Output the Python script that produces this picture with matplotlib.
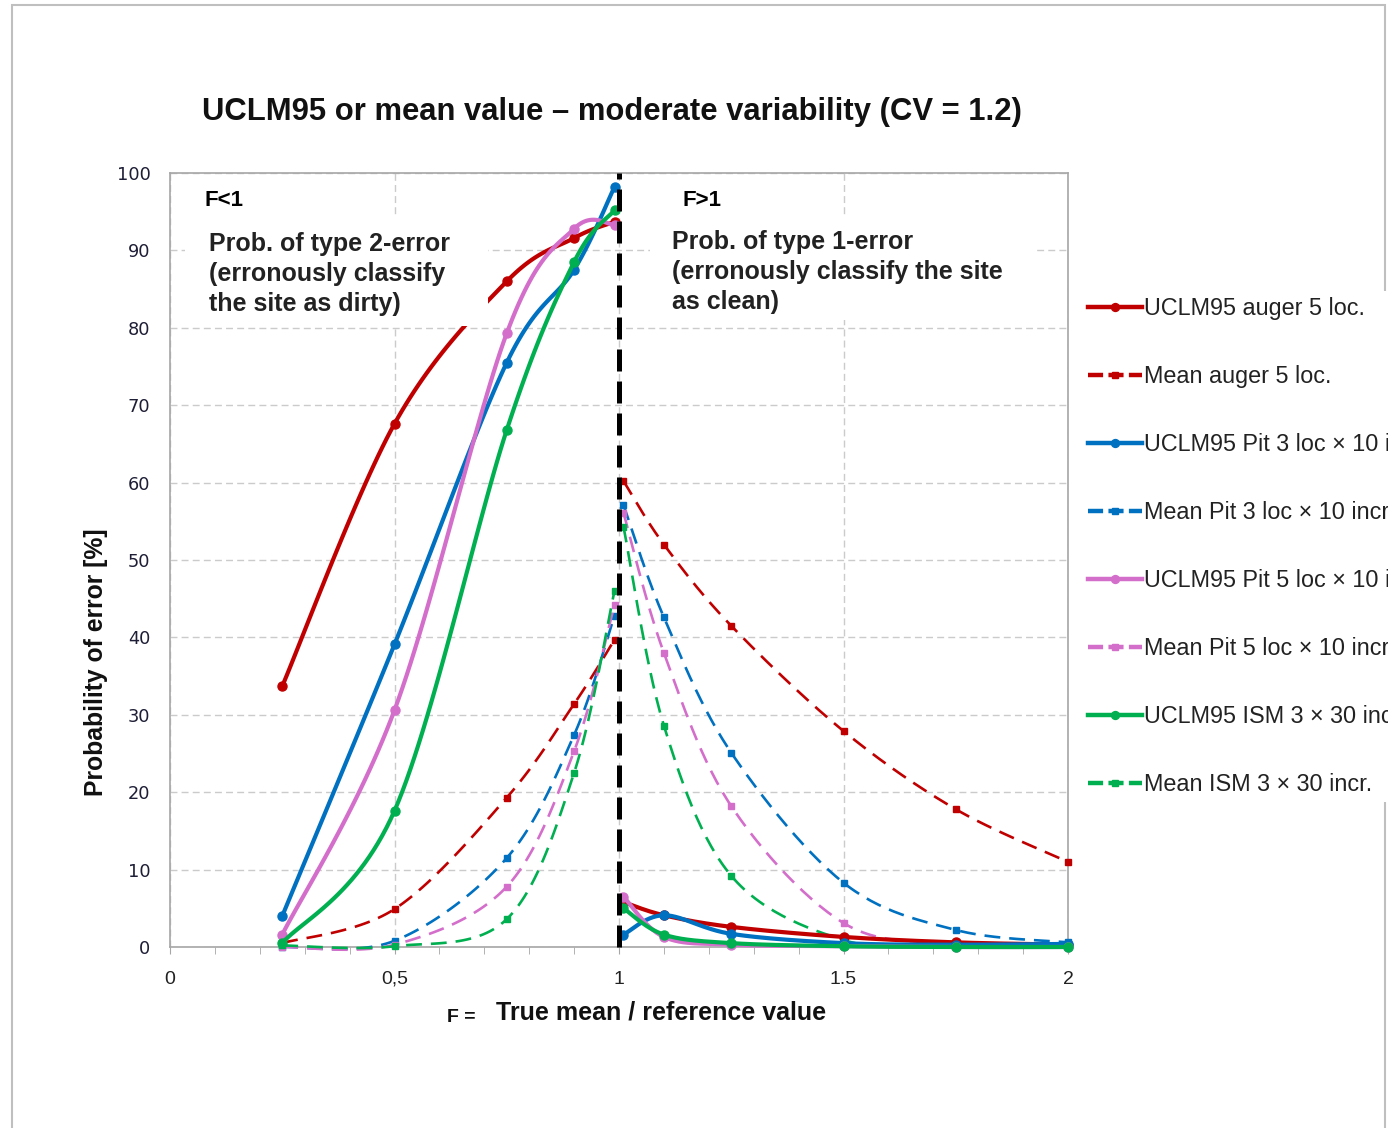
import numpy as np
import matplotlib
matplotlib.use('Agg')
import matplotlib.pyplot as plt
from matplotlib.lines import Line2D
from matplotlib.patches import Rectangle

W, H = 1388, 1128

# x positions of the computed points (F = true mean / reference value)
f_left = [0.25, 0.5, 0.75, 0.9, 0.99]
f_right = [1.01, 1.1, 1.25, 1.5, 1.75, 2.0]

# probability of error [%]
ucl_auger_left = [33.7, 67.6, 86.0, 91.6, 93.7]
ucl_auger_right = [5.8, 4.1, 2.6, 1.3, 0.6, 0.3]
mean_auger_left = [0.5, 4.9, 19.3, 31.4, 39.7]
mean_auger_right = [60.2, 52.0, 41.5, 27.9, 17.8, 11.0]
ucl_pit3_left = [4.0, 39.1, 75.5, 87.5, 98.2]
ucl_pit3_right = [1.6, 4.1, 1.7, 0.5, 0.3, 0.4]
mean_pit3_left = [0.0, 0.8, 11.5, 27.4, 42.8]
mean_pit3_right = [57.1, 42.6, 25.1, 8.3, 2.2, 0.6]
ucl_pit5_left = [1.6, 30.6, 79.3, 92.8, 93.3]
ucl_pit5_right = [6.5, 1.3, 0.3, 0.1, 0.0, 0.0]
mean_pit5_left = [0.0, 0.3, 7.8, 25.3, 44.2]
mean_pit5_right = [56.1, 38.0, 18.2, 3.1, 0.5, 0.2]
ucl_ism_left = [0.5, 17.6, 66.8, 88.5, 95.2]
ucl_ism_right = [5.0, 1.6, 0.5, 0.1, 0.0, 0.0]
mean_ism_left = [0.2, 0.1, 3.6, 22.5, 46.0]
mean_ism_right = [54.3, 28.6, 9.2, 0.9, 0.1, 0.0]

labels = ['UCLM95 auger 5 loc.', 'Mean auger 5 loc.',
          'UCLM95 Pit 3 loc \u00d7 10 incr.', 'Mean Pit 3 loc \u00d7 10 incr.',
          'UCLM95 Pit 5 loc \u00d7 10 incr.', 'Mean Pit 5 loc \u00d7 10 incr.',
          'UCLM95 ISM 3 \u00d7 30 incr.', 'Mean ISM 3 \u00d7 30 incr.']

red, blue, pink, green = '#C00000', '#0070C0', '#D46ECB', '#00B050'

series = [
    (ucl_auger_left, ucl_auger_right, red, True),
    (mean_auger_left, mean_auger_right, red, False),
    (ucl_pit3_left, ucl_pit3_right, blue, True),
    (mean_pit3_left, mean_pit3_right, blue, False),
    (ucl_pit5_left, ucl_pit5_right, pink, True),
    (mean_pit5_left, mean_pit5_right, pink, False),
    (ucl_ism_left, ucl_ism_right, green, True),
    (mean_ism_left, mean_ism_right, green, False),
]

plt.rcParams['font.family'] = ['Liberation Sans', 'DejaVu Sans']


def smooth(xs, ys, n=30):
    # excel-style smoothed line: bezier segments with catmull-rom control points
    p = np.column_stack([xs, ys]).astype(float)
    ext = np.vstack([p[0], p, p[-1]])
    t = np.linspace(0, 1, n)[1:, None]
    out = [p[0]]
    for i in range(len(p) - 1):
        p0, p1, p2, p3 = ext[i], ext[i + 1], ext[i + 2], ext[i + 3]
        c1 = p1 + (p2 - p0) / 6
        c2 = p2 - (p3 - p1) / 6
        seg = (1 - t)**3 * p1 + 3 * (1 - t)**2 * t * c1 + 3 * (1 - t) * t**2 * c2 + t**3 * p2
        out.extend(seg)
    out = np.array(out)
    return out[:, 0], out[:, 1]


fig = plt.figure(figsize=(W / 100, H / 100), dpi=100)
ax = fig.add_axes([170 / W, 1 - 947 / H, 898 / W, 774 / H])

dash = (0, (6, 3.4))
handles = []
for k, (yl, yr, c, solid) in enumerate(series):
    lw = 3.0 if solid else 1.9
    ls = '-' if solid else dash
    mk = 'o' if solid else 's'
    ms = 6.5 if solid else 5
    z = 4 if solid else 3
    for xs, ys in ((f_left, yl), (f_right, yr)):
        sx, sy = smooth(xs, ys)
        ax.plot(sx, sy, color=c, lw=lw, ls=ls, zorder=z, clip_on=False)
        ax.plot(xs, ys, ls='none', marker=mk, ms=ms, color=c, zorder=z, clip_on=False)
    handles.append(Line2D([], [], color=c, lw=3.2, ls='-' if solid else (0, (3.4, 1.2)),
                          marker=mk, ms=ms - 0.8))

# black divider at F = 1
ax.plot([1, 1], [0, 100], color='black', lw=3.6, ls=(0, (4.4, 2.0)), zorder=5, clip_on=False)

ax.set_xlim(0, 2)
ax.set_ylim(0, 100)
ax.set_xticks([0, 0.5, 1, 1.5, 2])
ax.set_xticklabels(['0', '0,5', '1', '1.5', '2'], fontsize=14, color='#222222')
ax.set_xticks(np.arange(0, 2.01, 0.1), minor=True)
ax.tick_params(axis='x', which='both', direction='out', length=5, color='#A6A6A6', pad=12)
ax.set_yticks(np.arange(0, 101, 10))
ax.set_yticklabels([str(v) for v in range(0, 101, 10)], fontsize=12.8, color='#1E1E36',
                   family='DejaVu Sans')
ax.tick_params(axis='y', length=0, pad=14)
ax.grid(True, which='major', color='#CBCBCB', ls=(0, (5, 3)), lw=1)
ax.set_axisbelow(True)
for s in ax.spines.values():
    s.set_color('#A6A6A6')
    s.set_linewidth(1.2)

# white boxes behind the two notes
ax.add_patch(Rectangle((0.0167, 0.802), 0.337, 0.144, transform=ax.transAxes,
                       facecolor='white', edgecolor='none', zorder=6))
ax.add_patch(Rectangle((0.5345, 0.81), 0.428, 0.136, transform=ax.transAxes,
                       facecolor='white', edgecolor='none', zorder=6))


def px(x, y):
    return x / W, 1 - y / H


fig.text(*px(205, 200), 'F<1', fontsize=16, fontweight='bold', va='center', zorder=10)
fig.text(*px(683, 201), 'F>1', fontsize=16, fontweight='bold', va='center', zorder=10)
fig.text(*px(209, 232), 'Prob. of type 2-error\n(erronously classify\nthe site as dirty)',
         fontsize=18, fontweight='bold', va='top', linespacing=1.32, color='#222222', zorder=10)
fig.text(*px(672, 230), 'Prob. of type 1-error\n(erronously classify the site\nas clean)',
         fontsize=18, fontweight='bold', va='top', linespacing=1.32, color='#222222', zorder=10)

fig.text(*px(612, 112), 'UCLM95 or mean value \u2013 moderate variability (CV = 1.2)',
         fontsize=22.3, fontweight='bold', ha='center', va='center', color='#111111')
fig.text(*px(96, 662), 'Probability of error [%]', fontsize=17.8, fontweight='bold',
         rotation=90, ha='center', va='center', color='#111111')
fig.text(*px(661, 1012), 'True mean / reference value', fontsize=18, fontweight='bold',
         ha='center', va='center', color='#111111')
fig.text(*px(461, 1017), 'F =', fontsize=14, fontweight='bold', ha='center', va='center',
         color='#111111')

# light grey frame around the whole chart
fig.add_artist(Rectangle((12 / W, -0.1), (1385 - 12) / W, 1.1 - 5 / H, transform=fig.transFigure,
                         fill=False, edgecolor='#BFBFBF', lw=1.5, zorder=0))

# legend runs off the right edge, as in the original
fig.legend(handles, labels, loc='upper left', bbox_to_anchor=px(1082, 291),
           bbox_transform=fig.transFigure, frameon=True, facecolor='white', edgecolor='none',
           framealpha=1, fontsize=16.8, handlelength=2.3, handletextpad=0.1, labelspacing=1.93,
           borderpad=0.25, borderaxespad=0, labelcolor='#222222')

fig.savefig('out.png', dpi=100)
